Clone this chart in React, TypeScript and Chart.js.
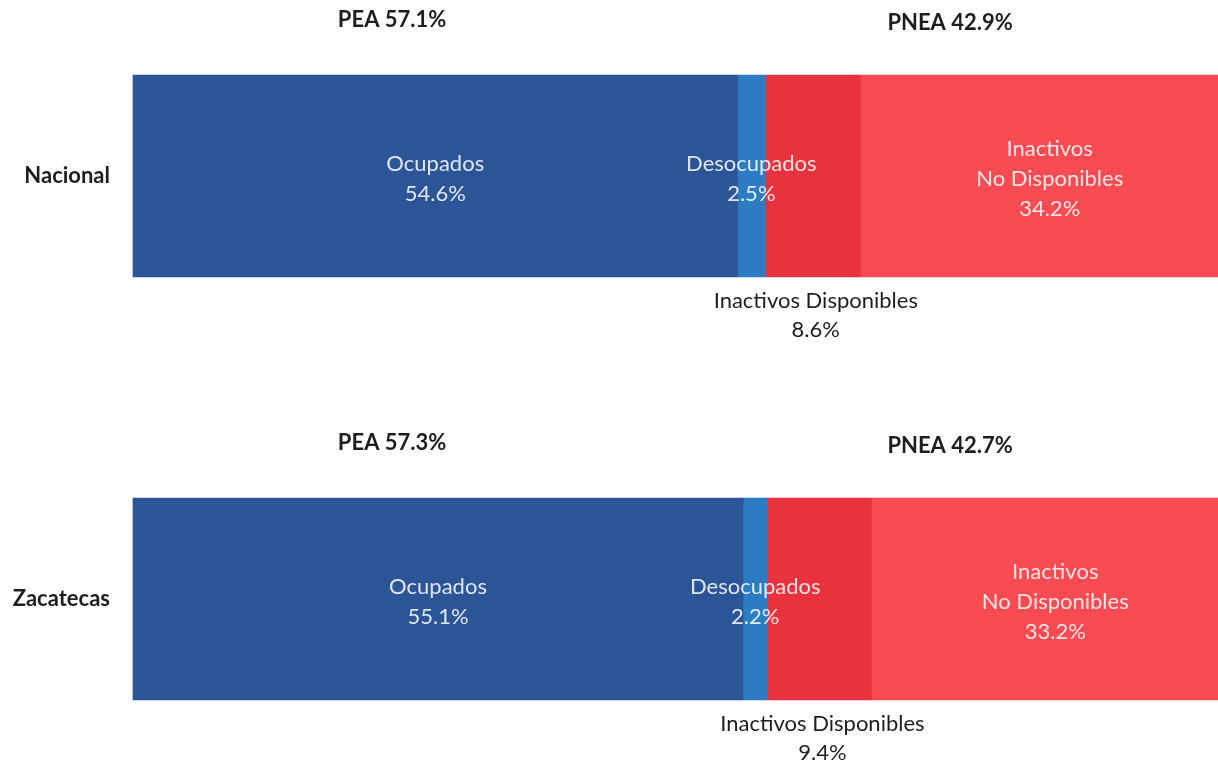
import { useEffect, useRef } from "react";
import { Chart, registerables } from "chart.js";

Chart.register(...registerables);

const categories = ["Nacional", "Zacatecas"];
const ocupados = [54.6, 55.1];
const desocupados = [2.5, 2.2];
const inactivosDisponibles = [8.6, 9.4];
const inactivosNoDisponibles = [34.2, 33.2];
const peaTotals = [57.1, 57.3];
const pneaTotals = [42.9, 42.7];

const seriesNames = ["Ocupados", "Desocupados", "Inactivos Disponibles", "Inactivos No Disponibles"];
const insideLines: string[][] = [["Ocupados"], ["Desocupados"], [], ["Inactivos", "No Disponibles"]];
const colors = ["#2c5597", "#2b7cc2", "#e8323d", "#f94b52"];

const FONT = "Lato, 'Open Sans', sans-serif";
const fmt = (v: number) => v.toFixed(1) + "%";

const labelPlugin = {
  id: "segLabels",
  afterDatasetsDraw(chart: any) {
    const ctx = chart.ctx as CanvasRenderingContext2D;
    const xs = chart.scales.x;
    ctx.save();
    ctx.textAlign = "center";
    ctx.textBaseline = "middle";
    chart.data.datasets.forEach((ds: any, di: number) => {
      const meta = chart.getDatasetMeta(di);
      meta.data.forEach((bar: any, i: number) => {
        const p = bar.getProps(["x", "y", "base", "height"], true);
        const cx = (p.x + p.base) / 2;
        const v = ds.data[i] as number;
        if (di === 2) {
          ctx.font = `22px ${FONT}`;
          ctx.fillStyle = "#1e1e1e";
          const top = p.y + p.height / 2;
          ctx.fillText(seriesNames[2], cx + 3, top + 24);
          ctx.fillText(fmt(v), cx + 3, top + 53);
        } else {
          const lines = [...insideLines[di], fmt(v)];
          ctx.font = `22px ${FONT}`;
          ctx.fillStyle = "rgba(255,255,255,0.85)";
          const lh = 30;
          const start = p.y + 3 - ((lines.length - 1) * lh) / 2;
          lines.forEach((t, k) => ctx.fillText(t, cx, start + k * lh));
        }
      });
    });
    const meta0 = chart.getDatasetMeta(0);
    meta0.data.forEach((bar: any, i: number) => {
      const p = bar.getProps(["x", "y", "base", "height"], true);
      ctx.font = `bold 22px ${FONT}`;
      ctx.fillStyle = "#1e1e1e";
      ctx.textAlign = "right";
      ctx.fillText(categories[i], 110, p.y);
      ctx.textAlign = "center";
      const top = p.y - p.height / 2;
      ctx.fillText("PEA " + fmt(peaTotals[i]), xs.getPixelForValue(23.4), top - 55);
      ctx.fillText("PNEA " + fmt(pneaTotals[i]), xs.getPixelForValue(73.8), top - 52);
    });
    ctx.restore();
  },
};

export default function App() {
  const ref = useRef<HTMLCanvasElement>(null);
  useEffect(() => {
    if (!ref.current) return;
    const data = [ocupados, desocupados, inactivosDisponibles, inactivosNoDisponibles];
    const chart = new Chart(ref.current, {
      type: "bar",
      data: {
        labels: categories,
        datasets: data.map((d, i) => ({
          label: seriesNames[i],
          data: d,
          backgroundColor: colors[i],
          borderWidth: 0,
          barThickness: 202,
          clip: false as any,
        })),
      },
      options: {
        indexAxis: "y",
        responsive: false,
        animation: false,
        layout: { padding: { left: 133, top: 176, bottom: 166, right: 0 } },
        plugins: { legend: { display: false }, tooltip: { enabled: false } },
        scales: {
          x: { type: "linear", min: 0, max: 98, stacked: true, display: false },
          y: { type: "category", offset: false, stacked: true, display: false },
        },
      },
      plugins: [labelPlugin],
    });
    return () => chart.destroy();
  }, []);
  return (
    <div style={{ position: "absolute", left: 0, top: 0, width: 1218, height: 765, background: "#fff" }}>
      <canvas ref={ref} width={1218} height={765} />
    </div>
  );
}
